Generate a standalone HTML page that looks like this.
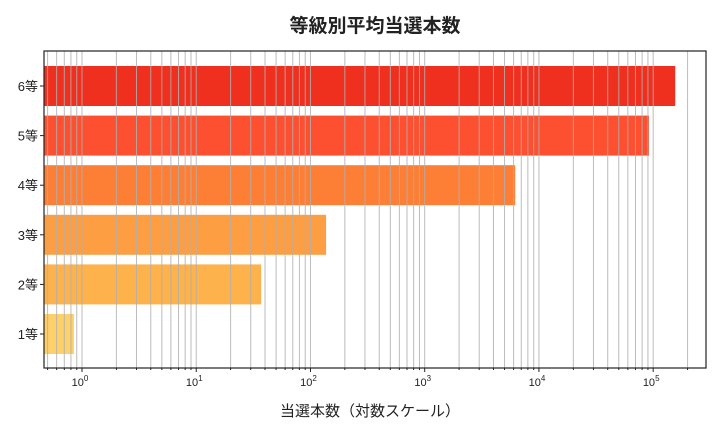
<!DOCTYPE html>
<html><head><meta charset="utf-8"><style>
body{margin:0;background:#fff}
svg text{font-family:"Liberation Sans","Noto Sans CJK JP",sans-serif}
</style></head><body>
<svg id="c" width="720" height="432" xmlns="http://www.w3.org/2000/svg">
<text x="375" y="32" text-anchor="middle" font-size="19" font-weight="bold" fill="#222">等級別平均当選本数</text>
<text x="370" y="416" text-anchor="middle" font-size="15" fill="#222">当選本数（対数スケール）</text>
<g id="bars"></g><g id="grid"></g><g id="ticks"></g>
<rect x="44" y="51" width="662" height="317" fill="none" stroke="#222" stroke-width="1.2"/>
</svg>
<script>
const categories=["1等","2等","3等","4等","5等","6等"];
const values=[0.85,37,137,6200,92000,156000];
const colors=["#fed06a","#feb24c","#fd9e43","#fd7f35","#fc5030","#f0301f"];
const tickExps=[0,1,2,3,4,5];
const NS="http://www.w3.org/2000/svg";
const x0=44,x1=706,yTop=51,yBot=368,lmin=Math.log10(0.465),lmax=Math.log10(290000);
function xs(v){return x0+(Math.log10(v)-lmin)/(lmax-lmin)*(x1-x0);}
function yc(i){return 334-i*49.6;}
function mk(t,a,p){const e=document.createElementNS(NS,t);for(const k in a)e.setAttribute(k,a[k]);p.appendChild(e);return e;}
const bars=document.getElementById('bars'),grid=document.getElementById('grid'),ticks=document.getElementById('ticks');
categories.forEach((c,i)=>{
 const r=mk('rect',{x:x0,y:yc(i)-20,width:xs(values[i])-x0,height:40,fill:colors[i]},bars);
 
 
 mk('line',{x1:x0-4,x2:x0,y1:yc(i),y2:yc(i),stroke:'#222'},ticks);
 const t=mk('text',{x:x0-6,y:yc(i)+5,'text-anchor':'end','font-size':13,fill:'#222'},ticks);
 t.textContent=c;
 
 
});
for(let e=-1;e<=5;e++){for(let m=1;m<10;m++){const v=m*Math.pow(10,e);const x=xs(v);if(x<x0||x>x1)continue;
 const l=mk('line',{x1:x,x2:x,y1:yTop,y2:yBot,stroke:'#b0b0b0','stroke-width':1,opacity:0.85},grid);
 
 
 mk('line',{x1:x,x2:x,y1:yBot,y2:yBot+(m==1?4:2),stroke:'#222'},ticks);}}
tickExps.forEach(e=>{const x=xs(Math.pow(10,e));
 const t=mk('text',{x:x-2,y:yBot+18,'text-anchor':'middle','font-size':11,fill:'#222'},ticks);
 t.innerHTML='10<tspan dy="-5" font-size="8">'+e+'</tspan>';
 
 });
</script>
</body></html>
